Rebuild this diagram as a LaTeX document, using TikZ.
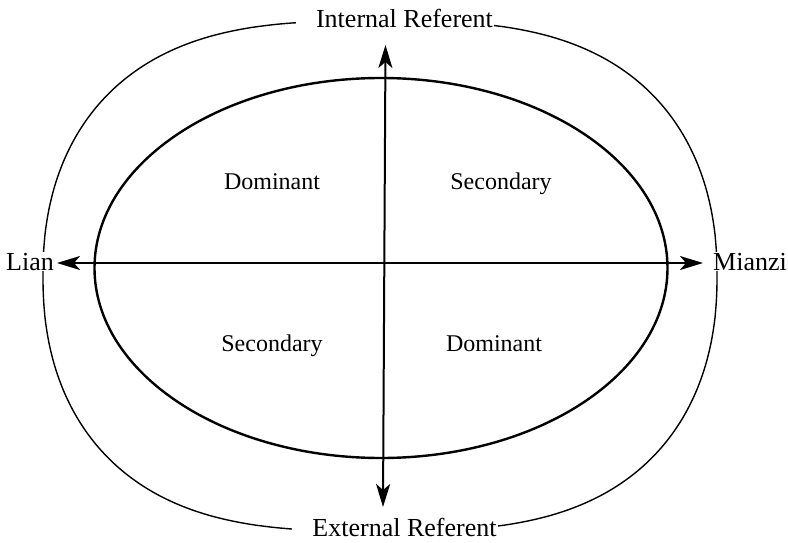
\documentclass[tikz,border=0pt]{standalone}
\usepackage{fontspec}
\setmainfont{Liberation Serif}
\usetikzlibrary{arrows.meta}
\begin{document}
\begin{tikzpicture}[x=1pt,y=-1pt,
  outerline/.style={line width=1.4pt},
  innerline/.style={line width=2.4pt},
  axis/.style={line width=2pt,{Stealth[length=23pt,width=14pt,inset=6pt]}-{Stealth[length=23pt,width=14pt,inset=6pt]}},
  biglabel/.style={font=\fontsize{26}{30}\selectfont,fill=white,inner sep=1pt,anchor=base},
  quad/.style={font=\fontsize{24}{28}\selectfont,inner sep=0pt,anchor=base}]
\useasboundingbox (0,0) rectangle (788,543);
% outer curve: superellipse |x/a|^3 + |y/b|^2.2 = 1
\draw[outerline] plot[domain=0.5:359.5,samples=360,variable=\t]
  ({380+337*sign(cos(\t))*abs(cos(\t))^(0.6667)},
   {276+255*sign(sin(\t))*abs(sin(\t))^(0.9091)}) -- cycle;
% inner ellipse
\draw[innerline] (381,268) ellipse [x radius=286.5, y radius=190];
% axes
\coordinate (vt) at (385.5,45);
\coordinate (vb) at (383,507);
\coordinate (hl) at (57,263);
\coordinate (hr) at (703,263);
\draw[axis] (vt) -- (vb);
\draw[axis] (hl) -- (hr);
% labels
\node[biglabel] (ir) at (395,28) {\hspace*{19pt}Internal Referent};
\node[biglabel] (er) at (395,536) {\hspace*{19pt}External Referent};
\node[biglabel] (lian) at (30,270) {Lian};
\node[biglabel] (mianzi) at (750,270) {Mianzi};
\node[quad] (d1) at (272,189) {Dominant};
\node[quad] (s1) at (501,189) {Secondary};
\node[quad] (s2) at (272,351) {Secondary};
\node[quad] (d2) at (494,351) {Dominant};
\end{tikzpicture}
\end{document}
